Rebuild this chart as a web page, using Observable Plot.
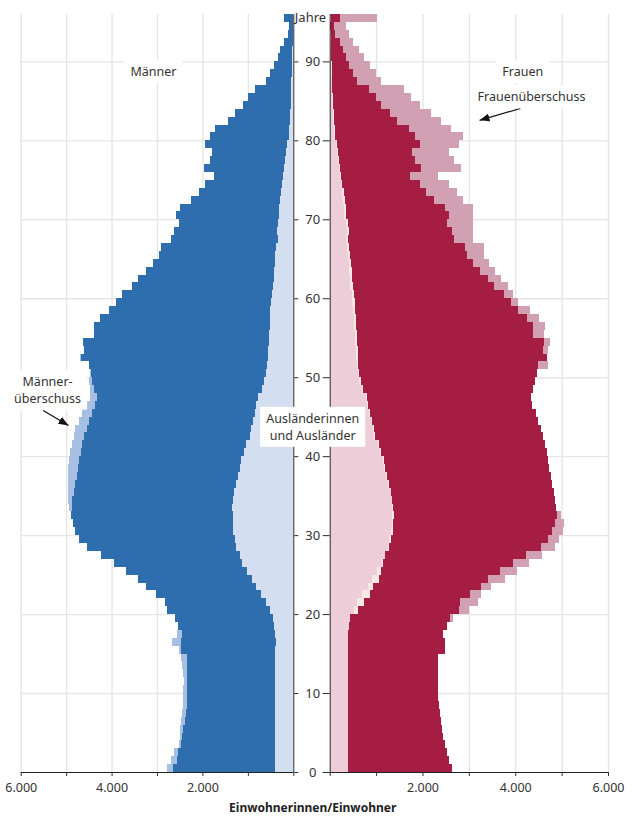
<!DOCTYPE html>
<html><head><meta charset="utf-8">
<script src="https://cdn.jsdelivr.net/npm/d3@7"></script>
<script src="https://cdn.jsdelivr.net/npm/@observablehq/plot@0.6"></script>
<style>
body{margin:0;background:#fff;}
#chart{position:relative;width:638px;height:818px;}
#chart svg{position:absolute;left:0;top:0;display:block}
</style>
</head><body><div id="chart"></div>
<script>
// ---------- data ----------
const ages = d3.range(0, 96); // 95 = 95+
const maleTotal = [2775, 2686, 2620, 2525, 2503, 2488, 2481, 2444, 2437, 2437,
 2422, 2407, 2422, 2444, 2466, 2525, 2664, 2554, 2539, 2597,
 2781, 2818, 3018, 3253, 3421, 3678, 3943, 4229, 4545, 4714,
 4802, 4853, 4890, 4927, 4949, 4949, 4949, 4949, 4949, 4934,
 4912, 4875, 4824, 4802, 4714, 4655, 4559, 4470, 4480, 4493,
 4480, 4493, 4692, 4604, 4626, 4383, 4383, 4251, 4053, 3899,
 3767, 3546, 3414, 3238, 3084, 2952, 2907, 2687, 2636, 2526,
 2577, 2489, 2247, 2085, 1938, 1740, 1960, 1843, 1784, 1938,
 1843, 1718, 1447, 1292, 1116, 1006, 837, 595, 507, 418,
 345, 286, 214, 125, 100, 214];
const femaleTotal = [2637, 2566, 2529, 2480, 2443, 2421, 2393, 2372, 2350, 2335,
 2335, 2335, 2335, 2335, 2335, 2480, 2480, 2443, 2530, 2659,
 3004, 3198, 3269, 3471, 3786, 4045, 4291, 4577, 4851, 4937,
 5030, 5052, 4994, 4880, 4860, 4830, 4800, 4765, 4730, 4715,
 4680, 4650, 4600, 4550, 4500, 4440, 4370, 4330, 4383, 4430,
 4460, 4707, 4679, 4707, 4743, 4614, 4636, 4506, 4319, 4060,
 3952, 3844, 3687, 3557, 3428, 3327, 3327, 3090, 3090, 3090,
 3090, 3090, 2875, 2752, 2573, 2336, 2838, 2681, 2566, 2781,
 2875, 2623, 2393, 2191, 1940, 1760, 1602, 1114, 1006, 862,
 740, 632, 503, 409, 358, 1020];
const maleForeign = [395, 395, 395, 395, 395, 395, 395, 395, 395, 395,
 395, 395, 395, 395, 395, 395, 385, 405, 418, 447,
 521, 594, 704, 815, 910, 1020, 1130, 1182, 1255, 1284,
 1328, 1336, 1336, 1350, 1336, 1314, 1255, 1218, 1167, 1152,
 1093, 1035, 962, 932, 880, 850, 810, 780, 690, 639,
 602, 580, 558, 558, 543, 535, 521, 521, 506, 491,
 470, 447, 433, 418, 411, 396, 374, 345, 366, 345,
 315, 315, 286, 270, 249, 225, 198, 180, 161, 130,
 95, 85, 75, 65, 55, 50, 45, 40, 35, 30,
 25, 20, 15, 12, 10, 8];
const femaleForeign = [395, 395, 395, 395, 395, 395, 395, 395, 395, 395,
 395, 395, 395, 395, 395, 395, 385, 405, 418, 447,
 610, 740, 862, 934, 1060, 1100, 1150, 1200, 1280, 1315,
 1372, 1375, 1380, 1365, 1345, 1320, 1270, 1235, 1185, 1170,
 1110, 1055, 985, 955, 905, 875, 835, 805, 720, 675,
 640, 620, 600, 600, 590, 580, 570, 565, 550, 540,
 520, 500, 485, 470, 460, 440, 420, 395, 410, 390,
 360, 355, 320, 300, 275, 250, 225, 205, 185, 155,
 120, 110, 100, 85, 75, 65, 60, 50, 45, 40,
 35, 28, 22, 18, 14, 25];

const xTickValues = [0, 1000, 2000, 3000, 4000, 5000, 6000];
const xTickLabels = ["", "", "2.000", "", "4.000", "", "6.000"];
const yTickValues = [0, 10, 20, 30, 40, 50, 60, 70, 80, 90];
const yTickLabels = ["0", "10", "20", "30", "40", "50", "60", "70", "80", "90"];
const yTitle = "Jahre";
const xTitle = "Einwohnerinnen/Einwohner";

// annotations (value in persons, age in years)
const maleLabels = [
  {text: "Männer", value: 3090, age: 88.9},
  {text: "Männer-\nüberschuss", value: 5420, age: 48.6}
];
const femaleLabels = [
  {text: "Frauen", value: 4150, age: 88.9},
  {text: "Frauenüberschuss", value: 4340, age: 85.7}
];
const centreLabels = [{text: "Ausländerinnen\nund Ausländer", age: 43.9}];
const maleArrows = [{v1: 5516, a1: 45.85, v2: 4959, a2: 43.95}];
const femaleArrows = [{v1: 4100, a1: 84.1, v2: 3220, a2: 82.6}];

// ---------- styling ----------
const C = {
  maleDark: "#2e6eae", maleSurplus: "#a7bfe2", maleForeign: "#d3dff0", maleForeignSurplus: "#e4ebf6",
  femDark: "#a51d42", femSurplus: "#d1a1b3", femForeign: "#eccdd8", femForeignSurplus: "#f8e8e4",
  grid: "#e6e6e6", axis: "#2a2a2a", text: "#333"
};
const W = 638, H = 818, MT = 14, MB = 46;
const leftPanel = {marginLeft: 20.7, marginRight: W - 293.3};
const rightPanel = {marginLeft: 329.7, marginRight: W - 608};
const gapCentre = -17.5; // offset from right panel's left edge to gap centre (px)

const rows = ages.map((age, i) => ({
  age, m: maleTotal[i], f: femaleTotal[i], fm: maleForeign[i], ff: femaleForeign[i]
}));
const fmt = v => xTickLabels[xTickValues.indexOf(v)];
const gridX = xTickValues.filter(v => v > 0);
const gridY = yTickValues.filter(v => v > 0);
const bar = {y1: "age", y2: d => d.age + 1, shapeRendering: "crispEdges"};
const common = {
  width: W, height: H, marginTop: MT, marginBottom: MB,
  style: "font-family: 'Noto Sans', sans-serif; background: transparent; color: #333; overflow: visible;",
  y: {domain: [0, 96], axis: null}
};
const gridMarks = () => [
  Plot.ruleX(gridX, {y1: 0, y2: 96, stroke: C.grid, strokeWidth: 1.4}),
  Plot.ruleY(gridY, {stroke: C.grid, strokeWidth: 1.4})
];
const axisMarks = () => [
  Plot.ruleX([0], {y1: 0, y2: 96, stroke: C.axis}),
  Plot.ruleY([0], {stroke: "#222"}),
  Plot.axisX(xTickValues, {anchor: "bottom", tickSize: 4, tickPadding: 7, label: null,
    tickFormat: fmt, fontSize: 12.5, color: C.text})
];

const leftSvg = Plot.plot({
  ...common, ...leftPanel,
  x: {domain: [0, 6000], reverse: true, axis: null},
  marks: [
    ...gridMarks(),
    Plot.text([yTitle], {x: 0, y: 95.6, dx: 1, textAnchor: "start", fontSize: 13, fill: C.text}),
    Plot.rect(rows, {...bar, x1: 0, x2: d => Math.min(d.m, d.f), fill: C.maleDark}),
    Plot.rect(rows.filter(d => d.m > d.f), {...bar, x1: "f", x2: "m", fill: C.maleSurplus}),
    Plot.rect(rows, {...bar, x1: 0, x2: d => Math.min(d.fm, d.ff), fill: C.maleForeign}),
    Plot.rect(rows.filter(d => d.fm > d.ff), {...bar, x1: "ff", x2: "fm", fill: C.maleForeignSurplus}),
    ...axisMarks(),
    Plot.axisY(yTickValues, {anchor: "right", tickSize: 4, tickFormat: () => "", label: null, color: C.axis}),
    Plot.link(maleArrows, {x1: "v1", y1: "a1", x2: "v2", y2: "a2", stroke: "#111", strokeWidth: 1.2,
      className: "anno-arrow", ariaLabel: "anno-arrow"}),
    Plot.text(maleLabels, {x: "value", y: "age", text: "text", fontSize: 12.5, lineHeight: 1.36,
      fill: C.text, className: "anno-label", ariaLabel: "anno-label"})
  ]
});

const rightSvg = Plot.plot({
  ...common, ...rightPanel,
  x: {domain: [0, 6000], axis: null},
  marks: [
    ...gridMarks(),
    Plot.rect(rows, {...bar, x1: 0, x2: d => Math.min(d.m, d.f), fill: C.femDark}),
    Plot.rect(rows.filter(d => d.f > d.m), {...bar, x1: "m", x2: "f", fill: C.femSurplus}),
    Plot.rect(rows, {...bar, x1: 0, x2: d => Math.min(d.fm, d.ff), fill: C.femForeign}),
    Plot.rect(rows.filter(d => d.ff > d.fm), {...bar, x1: "fm", x2: "ff", fill: C.femForeignSurplus}),
    ...axisMarks(),
    Plot.axisY(yTickValues, {anchor: "left", tickSize: 7, tickFormat: () => "", label: null, color: C.axis}),
    Plot.text(yTickValues, {frameAnchor: "left", dx: gapCentre, y: d => d, text: (d, i) => yTickLabels[i],
      textAnchor: "middle", fontSize: 13, fill: C.text}),
    Plot.text([xTitle], {frameAnchor: "bottom-left", dx: gapCentre, dy: 39, textAnchor: "middle",
      fontSize: 12, fontWeight: "bold", fill: "#222"}),
    Plot.link(femaleArrows, {x1: "v1", y1: "a1", x2: "v2", y2: "a2", stroke: "#111", strokeWidth: 1.2,
      className: "anno-arrow", ariaLabel: "anno-arrow"}),
    Plot.text(femaleLabels, {x: "value", y: "age", text: "text", fontSize: 12.5, lineHeight: 1.36,
      fill: C.text, className: "anno-label", ariaLabel: "anno-label"}),
    Plot.text(centreLabels, {frameAnchor: "left", dx: gapCentre, y: "age", text: "text", textAnchor: "middle",
      fontSize: 12.5, lineHeight: 1.36, fill: C.text, className: "anno-label", ariaLabel: "anno-label"})
  ]
});

const chart = document.getElementById("chart");
chart.append(leftSvg, rightSvg);

// white label boxes and filled arrowheads
const ns = "http://www.w3.org/2000/svg";
[leftSvg, rightSvg].forEach((svg, k) => {
  svg.querySelectorAll('g.anno-label text, g[aria-label="anno-label"] text').forEach(t => {
    const b = t.getBBox();
    const r = document.createElementNS(ns, "rect");
    r.setAttribute("x", b.x - 6);
    r.setAttribute("y", b.y - 3);
    r.setAttribute("width", b.width + 12);
    r.setAttribute("height", b.height + 6);
    r.setAttribute("fill", "white");
    const tr = t.getAttribute("transform");
    if (tr) r.setAttribute("transform", tr);
    t.parentNode.insertBefore(r, t);
  });
  const id = "ah" + k;
  const defs = document.createElementNS(ns, "defs");
  const marker = document.createElementNS(ns, "marker");
  marker.setAttribute("id", id);
  marker.setAttribute("viewBox", "0 0 10 10");
  marker.setAttribute("refX", "10");
  marker.setAttribute("refY", "5");
  marker.setAttribute("markerWidth", "10");
  marker.setAttribute("markerHeight", "8");
  marker.setAttribute("markerUnits", "userSpaceOnUse");
  marker.setAttribute("preserveAspectRatio", "none");
  marker.setAttribute("orient", "auto");
  const mp = document.createElementNS(ns, "path");
  mp.setAttribute("d", "M0,0L10,5L0,10Z");
  mp.setAttribute("fill", "#111");
  marker.appendChild(mp);
  defs.appendChild(marker);
  svg.insertBefore(defs, svg.firstChild);
  svg.querySelectorAll('g.anno-arrow path, g[aria-label="anno-arrow"] path')
    .forEach(p => p.setAttribute("marker-end", `url(#${id})`));
});
</script>
</body></html>
